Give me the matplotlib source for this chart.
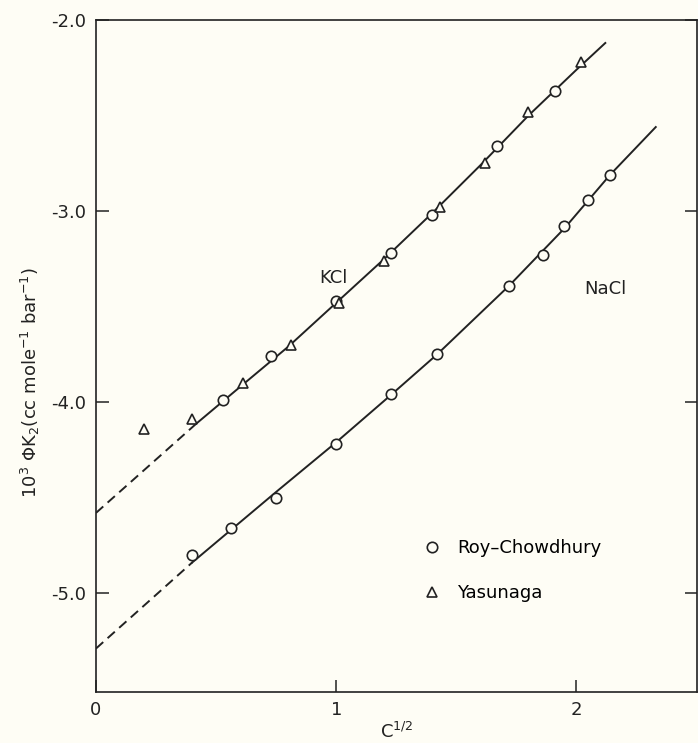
import matplotlib.pyplot as plt
import numpy as np
from matplotlib.lines import Line2D

# KCl data
kcl_rc_x = [0.53, 0.73, 1.00, 1.23, 1.40, 1.67, 1.91]
kcl_rc_y = [-3.99, -3.76, -3.47, -3.22, -3.02, -2.66, -2.37]
kcl_ya_x = [0.20, 0.40, 0.61, 0.81, 1.01, 1.20, 1.43, 1.62, 1.80, 2.02]
kcl_ya_y = [-4.14, -4.09, -3.90, -3.70, -3.48, -3.26, -2.98, -2.75, -2.48, -2.22]

# NaCl data
nacl_rc_x = [0.40, 0.56, 0.75, 1.00, 1.23, 1.42, 1.72, 1.86, 1.95, 2.05, 2.14]
nacl_rc_y = [-4.80, -4.66, -4.50, -4.22, -3.96, -3.75, -3.39, -3.23, -3.08, -2.94, -2.81]

# drawn curves
kcl_fit_x = [0.42, 0.60, 0.80, 1.00, 1.20, 1.40, 1.60, 1.80, 2.00, 2.12]
kcl_fit_y = [-4.11, -3.92, -3.71, -3.48, -3.25, -3.01, -2.76, -2.50, -2.26, -2.12]
kcl_ext_x = [0.0, 0.42]
kcl_ext_y = [-4.58, -4.11]
nacl_fit_x = [0.40, 0.75, 1.00, 1.23, 1.42, 1.72, 1.95, 2.14, 2.33]
nacl_fit_y = [-4.84, -4.47, -4.21, -3.96, -3.75, -3.39, -3.09, -2.81, -2.56]
nacl_ext_x = [0.0, 0.40]
nacl_ext_y = [-5.29, -4.84]

bg = '#fefdf5'
ink = '#222222'
fig = plt.figure(figsize=(6.98, 7.43), dpi=100, facecolor=bg)
ax = fig.add_axes([0.1375, 0.069, 0.8605, 0.904], facecolor=bg)

ax.plot(kcl_fit_x, kcl_fit_y, '-', color=ink, lw=1.4)
ax.plot(kcl_ext_x, kcl_ext_y, '--', color=ink, lw=1.4, dashes=(5, 3))
ax.plot(nacl_fit_x, nacl_fit_y, '-', color=ink, lw=1.4)
ax.plot(nacl_ext_x, nacl_ext_y, '--', color=ink, lw=1.4, dashes=(5, 3))

mk = dict(linestyle='none', mfc=bg, mec=ink, mew=1.2)
ax.plot(kcl_rc_x, kcl_rc_y, marker='o', ms=7.5, **mk)
ax.plot(nacl_rc_x, nacl_rc_y, marker='o', ms=7.5, **mk)
ax.plot(kcl_ya_x, kcl_ya_y, marker='^', ms=7.5, **mk)

ax.text(0.99, -3.35, 'KCl', fontsize=13, ha='center', va='center', color=ink)
ax.text(2.12, -3.41, 'NaCl', fontsize=13, ha='center', va='center', color=ink)

handles = [Line2D([], [], marker='o', ms=7.5, **mk), Line2D([], [], marker='^', ms=7.5, **mk)]
ax.legend(handles, ['Roy\u2013Chowdhury', 'Yasunaga'], loc='upper left',
          bbox_to_anchor=(0.517, 0.251), frameon=False, fontsize=13,
          handlelength=1.0, handletextpad=0.9, labelspacing=1.5)

ax.set_xlim(0, 2.5)
ax.set_ylim(-5.516, -2.0)
ax.set_xticks([0, 1, 2])
ax.set_xticklabels(['0', '1', '2'])
ax.set_yticks([-2.0, -3.0, -4.0, -5.0])
ax.set_yticklabels(['-2.0', '-3.0', '-4.0', '-5.0'])
ax.tick_params(direction='in', length=9, width=1.1, labelsize=13, colors=ink,
               right=True, top=False, pad=7)
for s in ax.spines.values():
    s.set_linewidth(1.2)
    s.set_color(ink)

ax.set_xlabel('C$^{1/2}$', fontsize=13, color=ink)
ax.set_ylabel('10$^3$ $\\Phi$K$_2$(cc mole$^{-1}$ bar$^{-1}$)', fontsize=13, color=ink)
ax.yaxis.set_label_coords(-0.09, 0.46)
ax.xaxis.set_label_coords(0.5, -0.045)

fig.savefig('out.png', dpi=100, facecolor=bg)
